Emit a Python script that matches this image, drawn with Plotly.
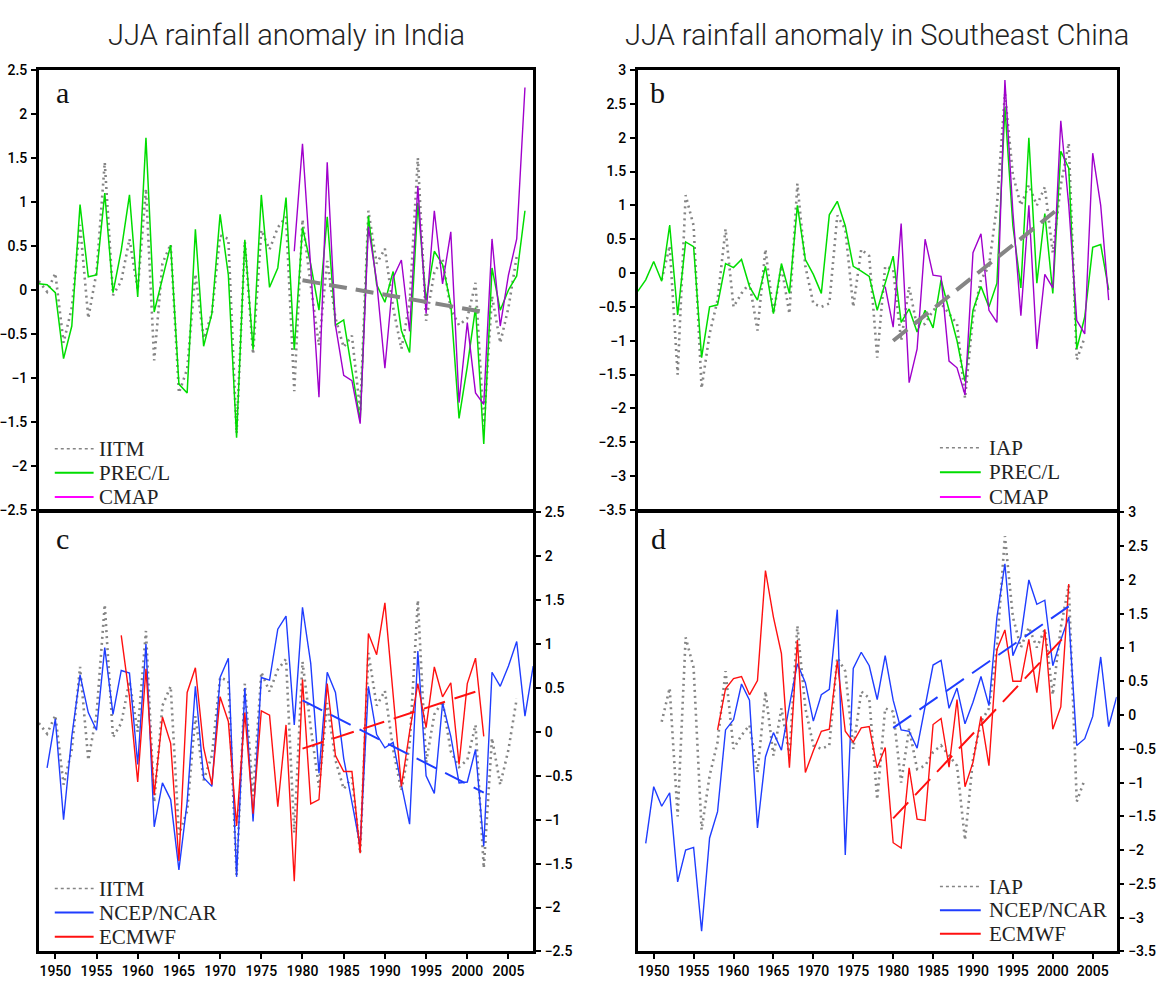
import plotly.graph_objects as go

# ---------------- India (JJA rainfall anomaly) ----------------
years_iitm = list(range(1948, 2007))
iitm = [0.1, -0.02, 0.19, -0.6, -0.2, 0.74, -0.32, 0.2, 1.45, -0.06,
        0.1, 0.58, 0.0, 1.15, -0.8, 0.3, 0.52, -1.17, -0.9, 0.18,
        -0.55, -0.27, 0.62, 0.58, -1.63, 0.55, -0.73, 0.68, 0.46, 0.71,
        0.83, -1.15, 0.8, 0.05, -0.63, 0.33, -0.32, -0.65, -0.52, -1.38,
        0.9, 0.3, 0.47, -0.2, -0.67, -0.15, 1.5, -0.35, 0.2, 0.35,
        -0.22, -0.4, -0.32, 0.08, -1.55, -0.07, -0.6, -0.2, 0.38]

years_precl = list(range(1948, 2008))
precl_india = [0.07, 0.06, -0.03, -0.78, -0.41, 0.97, 0.15, 0.17, 1.10, -0.03,
               0.45, 1.08, -0.08, 1.73, -0.25, 0.13, 0.51, -1.07, -1.17, 0.69,
               -0.64, -0.27, 0.86, 0.17, -1.68, 0.57, -0.68, 1.08, 0.03, 0.25,
               1.05, -0.68, 0.71, 0.29, -0.23, 0.83, -0.40, -0.34, -0.90, -1.49,
               0.84, 0.06, -0.14, 0.21, -0.46, -0.71, 0.99, -0.12, 0.44, 0.29,
               -0.16, -1.46, -0.87, -0.20, -1.75, 0.25, -0.23, 0.0, 0.16, 0.90]

years_cmap = list(range(1979, 2008))
cmap_india = [0.44, 1.66, 0.25, -1.22, 1.45, -0.40, -0.97, -1.03, -1.52, 0.72,
              0.10, -0.89, 0.14, 0.34, -0.47, 1.18, -0.27, 0.90, 0.07, 0.66,
              -1.28, -0.37, -1.17, -1.30, 0.58, -0.41, 0.17, 0.58, 2.30]

years_ncep = list(range(1949, 2009))
ncep_india = [-0.41, 0.15, -1.0, -0.05, 0.65, 0.22, 0.02, 0.96, 0.2, 0.7,
              0.67, -0.37, 1.0, -1.08, -0.58, -0.77, -1.57, -0.8, 0.52, -0.52,
              -0.62, 0.62, 0.84, -1.65, 0.5, -1.02, 0.62, 0.59, 1.17, 1.32,
              0.08, 1.42, 0.78, -0.47, 0.68, 0.45, -0.3, -0.8, -1.3, 0.52,
              -0.03, -0.18, -0.12, -0.6, -1.05, 0.92, -0.5, -0.7, 0.33, -0.05,
              -0.58, -0.57, -0.2, -1.3, 0.68, 0.52, 0.75, 1.03, 0.18, 0.75]

years_ecmwf = list(range(1958, 2003))
ecmwf_india = [1.1, 0.4, -0.57, 0.72, -0.72, 0.17, -0.13, -1.47, 0.45, 0.73,
               -0.18, -0.6, 0.4, 0.12, -1.07, 0.22, -0.93, 0.24, 0.19, -0.85,
               0.08, -1.7, 0.6, -0.82, -0.77, 0.55, -0.27, -0.45, -0.45, -1.38,
               1.12, 0.88, 1.47, 0.4, -0.62, 0.0, 0.55, 0.05, 0.74, 0.4,
               0.56, -0.37, 0.55, 0.84, -0.05]

# ---------------- Southeast China (JJA rainfall anomaly) ----------------
years_iap = list(range(1951, 2005))
iap = [-0.1, 0.4, -1.5, 1.15, 0.7, -1.7, -0.9, -0.4, 0.65, -0.5,
       -0.3, -0.15, -0.85, 0.35, -0.6, 0.1, -0.6, 1.32, 0.1, -0.45,
       -0.5, -0.45, 0.85, 0.65, -0.5, 0.35, 0.25, -1.25, 0.1, 0.05,
       -1.0, -0.2, -0.8, -0.75, -0.55, -0.45, -0.6, -0.75, -1.85, -0.65,
       -0.1, 0.1, 1.0, 2.65, 1.45, 1.0, 1.3, 1.0, 1.27, 0.3,
       1.3, 1.92, -1.28, -0.95]

precl_sechina = [-0.27, -0.1, 0.17, -0.12, 0.71, -0.62, 0.46, 0.39, -1.25, -0.5,
                 -0.47, 0.14, 0.08, 0.2, -0.2, -0.4, 0.1, -0.6, 0.14, -0.3,
                 1.0, 0.2, -0.02, -0.3, 0.86, 1.06, 0.7, 0.1, 0.03, -0.05,
                 -0.55, -0.15, 0.25, -0.73, -0.53, -0.87, -0.55, -0.81, -0.1, -0.55,
                 -1.0, -1.6, -0.55, -0.2, -0.5, -0.15, 2.45, 0.7, -0.22, 2.0,
                 -0.15, 0.88, -0.3, 1.8, 1.55, -1.12, -0.65, 0.38, 0.42, -0.25]

cmap_sechina = [-0.2, -0.8, 0.73, -1.62, -1.12, 0.5, -0.03, -0.05, -1.3, -1.4,
                -1.8, 0.3, 0.58, -0.55, -0.73, 2.85, 0.9, -0.63, 1.0, -1.12,
                -0.02, -0.22, 2.25, 1.0, -0.7, -0.9, 1.77, 1.0, -0.4]

ncep_sechina = [-1.9, -1.06, -1.35, -1.15, -2.47, -2.0, -1.96, -3.2, -1.82, -1.43,
                -0.22, -0.07, 0.46, 0.22, -1.67, -0.62, -0.26, -0.52, 0.14, 0.76,
                0.48, -0.09, 0.3, 0.38, 1.56, -2.07, 0.69, 0.93, 0.73, 0.23,
                0.88, 0.22, -0.22, -0.24, -0.49, 0.15, 0.74, 0.81, 0.1, 0.4,
                -0.13, 0.19, 0.57, 0.14, 1.45, 2.24, 0.88, 1.16, 2.0, 1.64,
                1.7, 0.73, 1.11, 1.45, -0.45, -0.35, -0.02, 0.86, -0.17, 0.27]

ecmwf_sechina = [-0.22, 0.39, 0.54, 0.57, 0.3, 0.51, 2.14, 1.45, 0.91, -0.78,
                 1.11, -0.85, -0.53, -0.24, -0.21, 0.8, -0.24, -0.4, -0.19, -0.17,
                 -0.78, -0.48, -1.89, -1.97, -0.78, -1.54, -1.56, -0.14, -0.05, -0.77,
                 0.23, -1.06, -0.7, -0.02, -0.75, 0.97, 1.26, 0.5, 0.5, 1.12,
                 0.33, 1.27, -0.21, 0.12, 1.94]

# ---------------- 1980-2002 linear trends ----------------
trend_years = [1980, 2002]
trend_a_iitm = [0.11, -0.25]
trend_b_years = [1980, 2001]
trend_b_iap = [-1.0, 0.98]
trend_c_ncep = [0.36, -0.69]
trend_c_ecmwf = [-0.19, 0.49]
trend_d_ncep = [-0.19, 1.61]
trend_d_ecmwf = [-1.53, 1.23]

# ---------------- styling ----------------
W, H = 1156, 989
GRAY = "#858585"
GREEN = "#00dd00"
PURPLE = "#a000cc"
BLUE = "#1f3dff"
RED = "#ff1010"
TICK_FONT = dict(family="Roboto, Liberation Sans Narrow, sans-serif", size=14,
                 color="black", weight=500)
LEG_FONT = dict(family="Liberation Serif, Times New Roman, serif", size=21, color="#222")


def px_x(p):
    return p / W


def px_y(p):
    return (H - p) / H


LW = 2.5  # frame line width
left_dom = [px_x(36), px_x(532.5)]
right_dom = [px_x(637.5), px_x(1118.5)]
top_dom = [px_y(510.2), px_y(63)]
bot_dom = [px_y(959), px_y(510.2 + LW)]

fig = go.Figure()


def line(x, y, color, width, dash, name, xa, ya):
    fig.add_trace(go.Scatter(
        x=x, y=y, mode="lines", name=name,
        line=dict(color=color, width=width, dash=dash),
        xaxis=xa, yaxis=ya, showlegend=False,
        hoverinfo="x+y+name"))


DOT = "2px,4px"
TREND_GRAY = "18px,9px"
TREND_COL = "22px,10px"

# panel a
line(years_iitm, iitm, GRAY, 2.6, DOT, "IITM", "x", "y")
line(years_precl, precl_india, GREEN, 1.5, "solid", "PREC/L", "x", "y")
line(years_cmap, cmap_india, PURPLE, 1.4, "solid", "CMAP", "x", "y")
line(trend_years, trend_a_iitm, GRAY, 4, TREND_GRAY, "IITM trend", "x", "y")

# panel b
line(years_iap, iap, GRAY, 2.6, DOT, "IAP", "x2", "y2")
line(years_precl, precl_sechina, GREEN, 1.5, "solid", "PREC/L", "x2", "y2")
line(years_cmap, cmap_sechina, PURPLE, 1.4, "solid", "CMAP", "x2", "y2")
line(trend_b_years, trend_b_iap, GRAY, 4, TREND_GRAY, "IAP trend", "x2", "y2")

# panel c
line(years_iitm, iitm, GRAY, 2.6, DOT, "IITM", "x3", "y3")
line(years_ncep, ncep_india, BLUE, 1.4, "solid", "NCEP/NCAR", "x3", "y3")
line(years_ecmwf, ecmwf_india, RED, 1.4, "solid", "ECMWF", "x3", "y3")
line(trend_years, trend_c_ncep, BLUE, 2, TREND_COL, "NCEP/NCAR trend", "x3", "y3")
line(trend_years, trend_c_ecmwf, RED, 2, TREND_COL, "ECMWF trend", "x3", "y3")

# panel d
line(years_iap, iap, GRAY, 2.6, DOT, "IAP", "x4", "y4")
line(years_ncep, ncep_sechina, BLUE, 1.4, "solid", "NCEP/NCAR", "x4", "y4")
line(years_ecmwf, ecmwf_sechina, RED, 1.4, "solid", "ECMWF", "x4", "y4")
line(trend_years, trend_d_ncep, BLUE, 2, TREND_COL, "NCEP/NCAR trend", "x4", "y4")
line(trend_years, trend_d_ecmwf, RED, 2, TREND_COL, "ECMWF trend", "x4", "y4")

frame = dict(showline=True, linecolor="black", linewidth=LW, mirror=True,
             showgrid=False, zeroline=False, tickfont=TICK_FONT)
year_ticks = list(range(1950, 2010, 5))


def xaxis(dom, anchor, labels):
    ax = dict(frame, domain=dom, anchor=anchor, range=[1948, 2008])
    if labels:
        ax.update(tickvals=year_ticks, ticks="outside", ticklen=5, tickwidth=1.5,
                  tickcolor="black", showticklabels=True)
    else:
        ax.update(ticks="", showticklabels=False)
    return ax


def yaxis(dom, anchor, rng, ticks, side):
    return dict(frame, domain=dom, anchor=anchor, range=rng, tickvals=ticks,
                ticks="outside", ticklen=5, tickwidth=1.5, tickcolor="black",
                side=side, ticklabelstandoff=1)


ticks_india = [-2.5, -2, -1.5, -1, -0.5, 0, 0.5, 1, 1.5, 2, 2.5]
ticks_china = [-3.5, -3, -2.5, -2, -1.5, -1, -0.5, 0, 0.5, 1, 1.5, 2, 2.5, 3]

fig.update_layout(
    width=W, height=H,
    margin=dict(l=0, r=0, t=0, b=0),
    paper_bgcolor="white", plot_bgcolor="white",
    showlegend=False,
    xaxis=xaxis(left_dom, "y", False),
    yaxis=yaxis(top_dom, "x", [-2.5, 2.5], ticks_india, "left"),
    xaxis2=xaxis(right_dom, "y2", False),
    yaxis2=yaxis(top_dom, "x2", [-3.5, 3], ticks_china, "left"),
    xaxis3=xaxis(left_dom, "y3", True),
    yaxis3=yaxis(bot_dom, "x3", [-2.5, 2.5], ticks_india, "right"),
    xaxis4=xaxis(right_dom, "y4", True),
    yaxis4=yaxis(bot_dom, "x4", [-3.5, 3], ticks_china, "right"),
)

# column titles
TITLE_FONT = dict(family="Roboto, Liberation Sans Narrow, sans-serif", size=29,
                  color="#222", weight=300)
fig.add_annotation(text="JJA rainfall anomaly in India", x=(left_dom[0] + left_dom[1]) / 2,
                   y=px_y(27), xref="paper", yref="paper", showarrow=False,
                   font=TITLE_FONT, xanchor="center", yanchor="middle")
fig.add_annotation(text="JJA rainfall anomaly in Southeast China",
                   x=(right_dom[0] + right_dom[1]) / 2,
                   y=px_y(27), xref="paper", yref="paper", showarrow=False,
                   font=TITLE_FONT, xanchor="center", yanchor="middle")

# panel letters
LETTER_FONT = dict(family="Liberation Serif, Times New Roman, serif", size=30, color="#111")
for letter, (lx, ly) in zip("abcd", [(60, 86), (657, 86), (60, 539), (658, 539)]):
    fig.add_annotation(text=letter, x=px_x(lx), y=px_y(ly), xref="paper", yref="paper",
                       showarrow=False, font=LETTER_FONT, xanchor="center", yanchor="middle")

# legend keys: (sample x0, sample x1, text x, first row y, row step, entries)
legends = [
    (52, 91, 94, 448, 24.5, [("IITM", GRAY, "dot", 1.5), ("PREC/L", GREEN, "solid", 2),
                             ("CMAP", "#ff00ff", "solid", 2)]),
    (941, 982, 988, 447, 25, [("IAP", GRAY, "dot", 1.5), ("PREC/L", GREEN, "solid", 2),
                              ("CMAP", "#ff00ff", "solid", 2)]),
    (52, 91, 94, 895, 24.5, [("IITM", GRAY, "dot", 1.5), ("NCEP/NCAR", BLUE, "solid", 2),
                             ("ECMWF", RED, "solid", 2)]),
    (941, 982, 988, 893, 24, [("IAP", GRAY, "dot", 1.5), ("NCEP/NCAR", BLUE, "solid", 2),
                              ("ECMWF", RED, "solid", 2)]),
]
for x0, x1, tx, y0, step, entries in legends:
    for i, (label, color, dash, width) in enumerate(entries):
        yy = px_y(y0 + i * step)
        fig.add_shape(type="line", xref="paper", yref="paper", x0=px_x(x0), x1=px_x(x1),
                      y0=yy, y1=yy, line=dict(color=color, width=width, dash=dash))
        fig.add_annotation(text=label, x=px_x(tx), y=yy, xref="paper", yref="paper",
                           showarrow=False, font=LEG_FONT, xanchor="left", yanchor="middle")

fig.write_html("out.html")
